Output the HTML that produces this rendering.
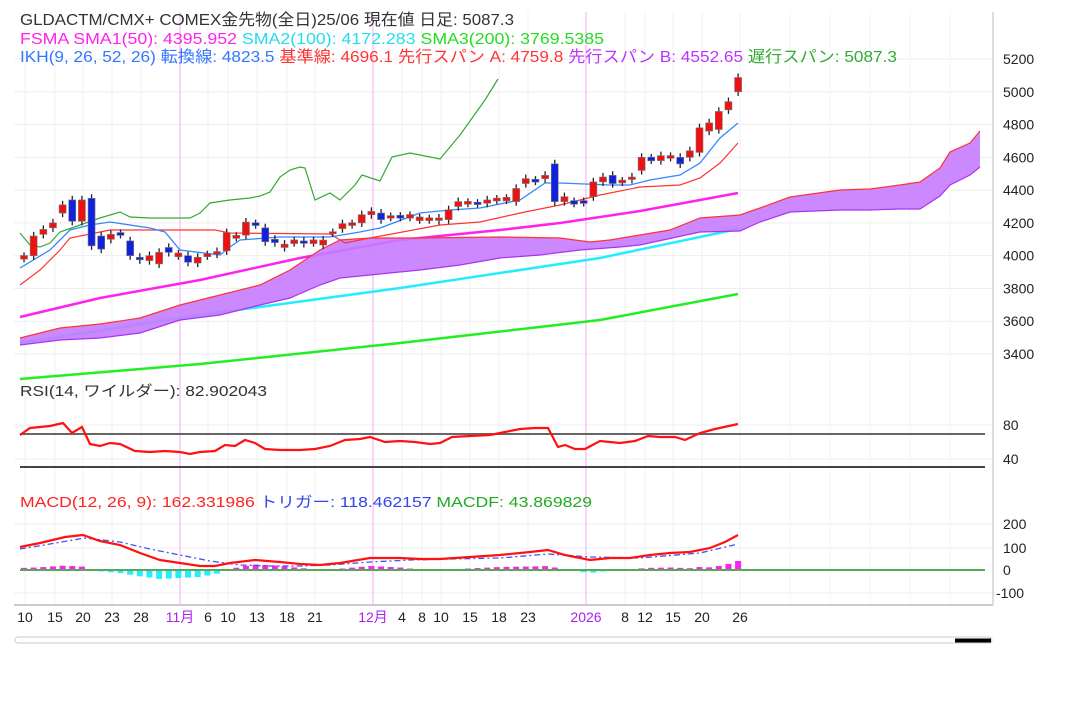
<!DOCTYPE html>
<html><head><meta charset="utf-8">
<style>
body{margin:0;background:#fff;width:1080px;height:703px;overflow:hidden;font-family:"Liberation Sans","Noto Sans CJK JP",sans-serif}
svg{position:absolute;left:0;top:0}
</style></head><body>
<svg id="s" width="1080" height="703" xmlns="http://www.w3.org/2000/svg" font-family="Liberation Sans, Noto Sans CJK JP, sans-serif"></svg>
<script>
const S=document.getElementById('s');let h='';
const py=p=>59+(5200-p)*0.16389;
const bx=i=>24+i*9.65;
function pl(pts,c,w,extra){return `<polyline fill="none" stroke="${c}" stroke-width="${w}" ${extra||''} points="${pts.map(p=>p.join(',')).join(' ')}"/>`;}
function P(a){const r=[];for(let i=0;i<a.length;i+=2)r.push([a[i],a[i+1]]);return r;}
for(let p=3400;p<=5200;p+=200)h+=`<line x1="14" x2="993" y1="${py(p)}" y2="${py(p)}" stroke="#eee"/>`;
[425,459].forEach(y=>h+=`<line x1="14" x2="993" y1="${y}" y2="${y}" stroke="#eee"/>`);
[524,548,593].forEach(y=>h+=`<line x1="14" x2="993" y1="${y}" y2="${y}" stroke="#eee"/>`);
const ticks=[[25,'10'],[55,'15'],[83,'20'],[112,'23'],[141,'28'],[180,'11月',1],[208,'6'],[228,'10'],[257,'13'],[287,'18'],[315,'21'],[373,'12月',1],[402,'4'],[422,'8'],[441,'10'],[470,'15'],[499,'18'],[528,'23'],[586,'2026',1],[625,'8'],[645,'12'],[673,'15'],[702,'20'],[740,'26']];
ticks.forEach(t=>{h+=`<line x1="${t[0]}" x2="${t[0]}" y1="12" y2="605" stroke="${t[2]?'#f7a8f7':'#f0f0f0'}"/>`;});
[790,830,870,910,950].forEach(x=>h+=`<line x1="${x}" x2="${x}" y1="12" y2="605" stroke="#f5f5f5"/>`);
h+=`<line x1="993" x2="993" y1="12" y2="605" stroke="#bbb"/><line x1="14" x2="993" y1="605" y2="605" stroke="#ccc" stroke-width="2"/>`;
h+=pl(P([20,379,200,364,400,343,600,320,738,294]),'#22ee22',2.5);
h+=pl(P([20,343,200,315,400,288,600,258,738,229]),'#22eeff',2.5);
h+=pl(P([20,317,100,298,200,280,300,258,400,240,500,230,560,223,640,211,700,200,738,193]),'#ff22ee',2.5);
const A=P([20,338,60,328,100,324,140,318,180,305,220,295,260,285,290,270,320,250,340,240,370,238,420,238,500,237,560,238,590,242,610,240,640,235,670,230,700,218,740,215,760,208,790,197,840,190,870,189,900,185,920,182,940,168,950,152,970,143,980,131]);
const B=P([20,345,60,340,100,338,140,333,180,320,220,315,260,305,290,298,320,285,340,278,370,275,420,270,460,265,500,258,540,255,580,250,620,247,640,245,700,232,740,231,760,222,790,212,840,210,870,210,900,209,920,209,940,196,950,185,970,175,980,167]);
h+=`<polygon fill="#c77bff" opacity="0.9" points="${A.concat(B.slice().reverse()).map(p=>p.join(',')).join(' ')}"/>`;
h+=pl(A,'#ff3333',1.2)+pl(B,'#aa33ee',1.2);
h+=pl(P([20,285,40,270,60,250,70,238,110,230,215,230,230,233,330,234,345,243,370,238,440,225,480,222,520,213,560,205,600,195,640,187,680,185,700,178,720,163,738,143]),'#ff3333',1.2);
h+=pl(P([20,268,50,250,70,230,90,225,110,222,150,228,165,232,180,250,220,255,230,247,240,240,280,237,330,237,360,232,380,228,420,213,450,210,480,208,520,200,545,183,560,183,610,185,630,185,650,180,680,175,700,163,720,138,738,123]),'#3388ff',1.3);
h+=pl(P([20,233,30,245,40,247,50,243,60,232,80,225,100,218,120,212,130,217,150,218,190,218,200,213,210,203,230,200,250,198,260,196,270,192,280,177,290,170,300,167,305,168,315,200,330,193,340,200,355,185,362,175,380,181,392,157,410,153,420,155,440,159,460,135,485,100,498,79]),'#33aa33',1.2);
const C=[[3985,3995],[4000,4120],[4130,4160],[4170,4200],[4260,4310],[4340,4210],[4210,4340],[4350,4060],[4120,4040],[4100,4130],[4135,4130],[4090,4000],[3990,3975],[3970,4000],[3950,4020],[4050,4020],[4000,4010],[4000,3960],[3955,3990],[4000,4005],[4010,4025],[4030,4140],[4112,4118],[4125,4205],[4195,4190],[4170,4085],[4100,4080],[4050,4070],[4080,4090],[4090,4075],[4080,4090],[4065,4095],[4140,4140],[4165,4195],[4190,4195],[4200,4250],[4250,4270],[4260,4220],[4235,4238],[4240,4235],[4235,4245],[4220,4230],[4220,4225],[4215,4230],[4220,4280],[4300,4330],[4320,4325],[4320,4318],[4320,4340],[4340,4345],[4340,4350],[4330,4410],[4440,4470],[4460,4455],[4470,4490],[4560,4330],[4330,4360],[4330,4320],[4330,4325],[4360,4450],[4450,4480],[4490,4440],[4450,4455],[4465,4480],[4520,4600],[4595,4585],[4580,4610],[4600,4605],[4600,4560],[4600,4640],[4630,4780],[4760,4810],[4770,4880],[4890,4940],[5000,5087]];
C.forEach((c,i)=>{const x=bx(i),o=c[0],cl=c[1],up=cl>=o,hi=Math.max(o,cl)+25,lo=Math.min(o,cl)-25;
let y1=py(Math.max(o,cl)),y2=py(Math.min(o,cl));if(y2-y1<2){y1-=1;y2+=1;}
h+=`<line x1="${x}" x2="${x}" y1="${py(hi)}" y2="${py(lo)}" stroke="#222" stroke-width="1.3"/>`;
h+=`<rect x="${x-3.5}" y="${y1}" width="7" height="${y2-y1}" fill="${up?'#ee1111':'#1122dd'}" stroke="#777" stroke-width="0.6"/>`;});
h+=`<line x1="20" x2="985" y1="434" y2="434" stroke="#666" stroke-width="2"/><line x1="20" x2="985" y1="467" y2="467" stroke="#444" stroke-width="2"/>`;
h+=pl(P([20,435,30,428,50,426,63,423,72,433,82,427,90,444,100,446,110,443,120,444,135,451,150,452,165,451,180,452,190,454,200,452,215,451,225,445,235,446,245,440,255,443,265,449,280,450,300,450,315,449,330,446,345,440,360,439,370,437,385,442,400,441,415,442,430,444,440,443,452,437,470,436,490,435,505,432,520,429,535,428,548,428,558,447,565,445,575,449,585,449,600,441,620,443,635,441,648,436,660,437,675,437,685,440,700,433,715,429,738,424]),'#ff1111',2.2);
const R=P([20,547,40,543,65,537,83,535,100,541,120,545,140,553,160,560,180,563,200,566,215,566,230,563,255,560,280,562,300,564,320,565,340,563,370,558,400,558,420,559,440,559,470,557,500,555,530,552,548,550,565,555,590,560,610,558,630,558,650,555,670,553,690,552,710,548,725,542,738,535]);
const T=P([20,549,50,544,85,538,120,542,150,549,180,555,210,561,240,565,270,566,300,566,330,565,370,562,410,560,450,559,500,558,548,554,590,557,640,558,700,553,738,544]);
const it=(a,x)=>{for(let i=1;i<a.length;i++)if(x<=a[i][0]){const t=(x-a[i-1][0])/(a[i][0]-a[i-1][0]);return a[i-1][1]+t*(a[i][1]-a[i-1][1]);}return a[a.length-1][1];};
for(let i=0;i<75;i++){const x=bx(i);const d=it(T,x)-it(R,x);const hgt=Math.abs(d);
h+=`<rect x="${x-3}" y="${d>0?570-hgt:570}" width="6" height="${Math.max(hgt,0.5)}" fill="${d>0?'#ff22ee':'#22eeff'}"/>`;}
h+=`<line x1="20" x2="985" y1="570" y2="570" stroke="#55aa55" stroke-width="2"/>`;
h+=pl(T,'#4455ee',1.3,'stroke-dasharray="6,3,2,3"');
h+=pl(R,'#ff1111',2.2);
[5200,5000,4800,4600,4400,4200,4000,3800,3600,3400].forEach(r=>h+=`<text x="1003" y="${py(r)+5}" font-size="14" fill="#222">${r}</text>`);
[[425,'80'],[459,'40'],[524,'200'],[548,'100'],[570,'0'],[593,'-100']].forEach(r=>h+=`<text x="${r[1]=='-100'?996:1003}" y="${r[0]+5}" font-size="14" fill="#222">${r[1]}</text>`);
ticks.forEach(t=>h+=`<text x="${t[0]}" y="622" font-size="14" text-anchor="middle" fill="${t[2]?'#aa22ee':'#222'}">${t[1]}</text>`);
h+=`<text x="20" y="25" font-size="16" fill="#333" textLength="494" lengthAdjust="spacingAndGlyphs">GLDACTM/CMX+ COMEX金先物(全日)25/06  現在値 日足: 5087.3</text>`;
h+=`<text x="20" y="44" font-size="16" textLength="584" lengthAdjust="spacingAndGlyphs"><tspan fill="#ff22ee">FSMA SMA1(50): 4395.952 </tspan><tspan fill="#22ddee">SMA2(100): 4172.283 </tspan><tspan fill="#22dd22">SMA3(200): 3769.5385</tspan></text>`;
h+=`<text x="20" y="62" font-size="16" textLength="877" lengthAdjust="spacingAndGlyphs"><tspan fill="#3377ff">IKH(9, 26, 52, 26) 転換線: 4823.5 </tspan><tspan fill="#ff3333">基準線: 4696.1 先行スパン A: 4759.8 </tspan><tspan fill="#bb33ff">先行スパン B: 4552.65 </tspan><tspan fill="#33aa33">遅行スパン: 5087.3</tspan></text>`;
h+=`<text x="20" y="396" font-size="15" fill="#333" textLength="247" lengthAdjust="spacingAndGlyphs">RSI(14, ワイルダー): 82.902043</text>`;
h+=`<text x="20" y="507" font-size="15" textLength="572" lengthAdjust="spacingAndGlyphs"><tspan fill="#ff2222">MACD(12, 26, 9): 162.331986 </tspan><tspan fill="#3344ee">トリガー: 118.462157 </tspan><tspan fill="#22aa22">MACDF: 43.869829</tspan></text>`;
h+=`<rect x="15" y="637" width="977" height="6" rx="3" fill="#fff" stroke="#ccc"/><rect x="955" y="638.5" width="36" height="4" fill="#000"/>`;
S.innerHTML=h;
</script>
</body></html>
